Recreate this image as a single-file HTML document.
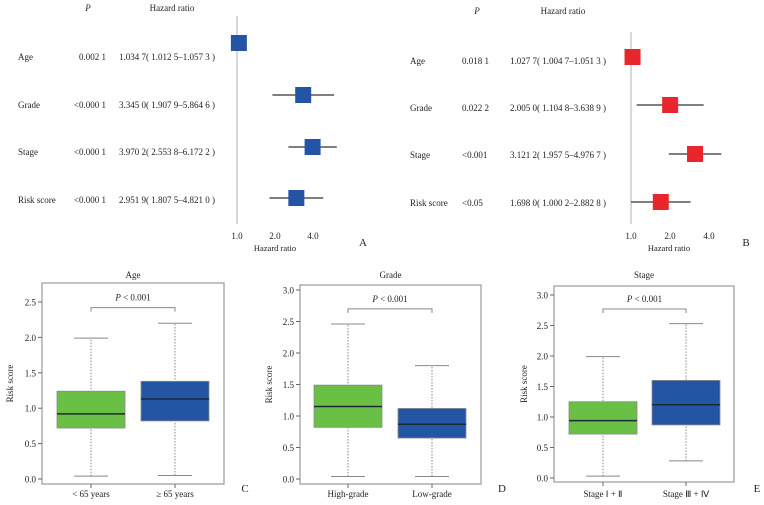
<!DOCTYPE html>
<html><head><meta charset="utf-8"><style>
body{margin:0;background:#fff}
svg{display:block;font-family:"Liberation Serif",serif}
</style></head><body>
<svg id="c" width="764" height="505" viewBox="0 0 764 505" xmlns="http://www.w3.org/2000/svg"></svg>
<script>
// Forest A data
const forestLabels = ["Age","Grade","Stage","Risk score"];
const forestA_P = ["0.002 1","<0.000 1","<0.000 1","<0.000 1"];
const forestA_HRtext = ["1.034 7( 1.012 5\u20131.057 3 )","3.345 0( 1.907 9\u20135.864 6 )","3.970 2( 2.553 8\u20136.172 2 )","2.951 9( 1.807 5\u20134.821 0 )"];
const forestA_HR = [1.0347,3.3450,3.9702,2.9519];
const forestA_lo = [1.0125,1.9079,2.5538,1.8075];
const forestA_hi = [1.0573,5.8646,6.1722,4.8210];
// Forest B data
const forestB_P = ["0.018 1","0.022 2","<0.001","<0.05"];
const forestB_HRtext = ["1.027 7( 1.004 7\u20131.051 3 )","2.005 0( 1.104 8\u20133.638 9 )","3.121 2( 1.957 5\u20134.976 7 )","1.698 0( 1.000 2\u20132.882 8 )"];
const forestB_HR = [1.0277,2.0050,3.1212,1.6980];
const forestB_lo = [1.0047,1.1048,1.9575,1.0002];
const forestB_hi = [1.0513,3.6389,4.9767,2.8828];
const forestTicks = [1,2,4];
const forestTickLabels = ["1.0","2.0","4.0"];
// Boxplot data [min,q1,median,q3,max]
const boxC = [[0.04,0.72,0.92,1.24,1.99],[0.05,0.82,1.13,1.38,2.20]];
const boxD = [[0.04,0.82,1.15,1.49,2.46],[0.04,0.65,0.87,1.12,1.80]];
const boxE = [[0.03,0.72,0.94,1.25,1.99],[0.28,0.87,1.20,1.60,2.53]];
const catsC = ["< 65 years","\u2265 65 years"];
const catsD = ["High-grade","Low-grade"];
const catsE = ["Stage \u2160 + \u2161","Stage \u2162 + \u2163"];
const ticksC = [0,0.5,1,1.5,2,2.5];
const ticksDE = [0,0.5,1,1.5,2,2.5,3];

const svg=document.getElementById('c');
const NS="http://www.w3.org/2000/svg";
function mk(tag,attrs,parent){const e=document.createElementNS(NS,tag);for(const k in attrs)e.setAttribute(k,attrs[k]);(parent||svg).appendChild(e);return e;}
function tx(x,y,s,size,anchor,parent,extra){const e=mk('text',Object.assign({x:x,y:y,'font-size':size,'text-anchor':anchor||'start',fill:'#222'},extra||{}),parent);e.textContent=s;return e;}

function forest(cfg){
  const g=mk('g',{});
  
  
  const xs=v=>cfg.x0+Math.log2(v)*cfg.k;
  tx(cfg.pHeadX,cfg.headY,'P',9,'middle',g,{'font-style':'italic'});
  tx(cfg.hrHeadX,cfg.headY,'Hazard ratio',9,'middle',g);
  mk('line',{x1:cfg.x0,y1:cfg.top,x2:cfg.x0,y2:cfg.bottom,stroke:'#ccc','stroke-width':1.5},g);
  for(let i=0;i<forestLabels.length;i++){
    const ly=cfg.labelY[i], sy=cfg.sqY[i];
    const l=tx(cfg.labX,ly,forestLabels[i],9,'start',g);
    
    
    tx(cfg.pX,ly,cfg.P[i],9,cfg.pAnchor,g);
    tx(cfg.hrX,ly,cfg.txt[i],9,'start',g);
    const ci=mk('line',{x1:xs(cfg.lo[i]),x2:xs(cfg.hi[i]),y1:sy,y2:sy,stroke:'#555','stroke-width':1.6},g);
    
    
    const sq=mk('rect',{x:xs(cfg.hr[i])-8,y:sy-8,width:16,height:16,fill:cfg.color},g);
    
    
  }
  forestTicks.forEach((t,i)=>tx(xs(t),239,forestTickLabels[i],9,'middle',g));
  tx(cfg.x0+38,251,'Hazard ratio',8.5,'middle',g);
  tx(cfg.letterX,246,cfg.letter,11,'middle',g);
}
forest({name:'forest-plot-a',x0:237,k:38,top:16,bottom:224,headY:11,pHeadX:88,hrHeadX:172,labX:18,pX:106,pAnchor:'end',hrX:119,
  labelY:[60,108,155,203],sqY:[43,95,147,198],P:forestA_P,txt:forestA_HRtext,hr:forestA_HR,lo:forestA_lo,hi:forestA_hi,color:'#2455a4',letter:'A',letterX:363});
forest({name:'forest-plot-b',x0:631,k:39,top:32,bottom:224,headY:14,pHeadX:477,hrHeadX:563,labX:410,pX:462,pAnchor:'start',hrX:510,
  labelY:[64,111,158,206],sqY:[57,105,154,202],P:forestB_P,txt:forestB_HRtext,hr:forestB_HR,lo:forestB_lo,hi:forestB_hi,color:'#e8262b',letter:'B',letterX:746});

function boxplot(cfg){
  const g=mk('g',{});
  
  
  const ys=v=>cfg.y0-v*cfg.k;
  mk('rect',{x:cfg.L,y:cfg.T,width:cfg.R-cfg.L,height:cfg.B-cfg.T,fill:'none',stroke:'#999','stroke-width':1.2},g);
  tx((cfg.L+cfg.R)/2,278,cfg.title,9,'middle',g);
  cfg.ticks.forEach(t=>{mk('line',{x1:cfg.L-4,x2:cfg.L,y1:ys(t),y2:ys(t),stroke:'#666'},g);tx(cfg.L-6,ys(t)+3.5,t.toFixed(1),9,'end',g);});
  const yl=tx(cfg.ylX,(cfg.T+cfg.B)/2,'Risk score',9,'middle',g,{transform:`rotate(-90 ${cfg.ylX} ${(cfg.T+cfg.B)/2})`});
  
  
  const cols=['#6abf45','#2455a4'];
  cfg.data.forEach((d,i)=>{
    const cx=cfg.cx[i], w=34;
    mk('line',{x1:cx,x2:cx,y1:ys(d[0]),y2:ys(d[4]),stroke:'#888','stroke-dasharray':'1.5,1.5'},g);
    mk('line',{x1:cx-17,x2:cx+17,y1:ys(d[0]),y2:ys(d[0]),stroke:'#888'},g);
    mk('line',{x1:cx-17,x2:cx+17,y1:ys(d[4]),y2:ys(d[4]),stroke:'#888'},g);
    const b=mk('rect',{x:cx-w,y:ys(d[3]),width:2*w,height:ys(d[1])-ys(d[3]),fill:cols[i],stroke:'#8a8a8a','stroke-width':0.8},g);
    
    
    mk('line',{x1:cx-w,x2:cx+w,y1:ys(d[2]),y2:ys(d[2]),stroke:'#1a2a3a','stroke-width':1.5},g);
    mk('line',{x1:cx,x2:cx,y1:cfg.B,y2:cfg.B+4,stroke:'#666'},g);
    tx(cx,497,cfg.cats[i],9,'middle',g);
  });
  const by=ys(cfg.br);
  mk('path',{d:`M${cfg.cx[0]} ${by+4}V${by}H${cfg.cx[1]}V${by+4}`,fill:'none',stroke:'#888'},g);
  const p=tx((cfg.cx[0]+cfg.cx[1])/2,by-7,'',9,'middle',g);
  p.innerHTML='<tspan font-style="italic">P</tspan> &lt; 0.001';
  tx(cfg.letterX,492,cfg.letter,11,'middle',g);
}
boxplot({name:'boxplot-age',L:42,R:224,T:283,B:484,y0:479,k:70.8,ticks:ticksC,data:boxC,cats:catsC,cx:[91,175],br:2.42,title:'Age',ylX:13,letter:'C',letterX:245});
boxplot({name:'boxplot-grade',L:300,R:481,T:285,B:484,y0:479,k:63,ticks:ticksDE,data:boxD,cats:catsD,cx:[348,432],br:2.7,title:'Grade',ylX:272,letter:'D',letterX:502});
boxplot({name:'boxplot-stage',L:554,R:734,T:286,B:482,y0:478,k:61,ticks:ticksDE,data:boxE,cats:catsE,cx:[603,686],br:2.77,title:'Stage',ylX:527,letter:'E',letterX:757});
</script>
</body></html>
